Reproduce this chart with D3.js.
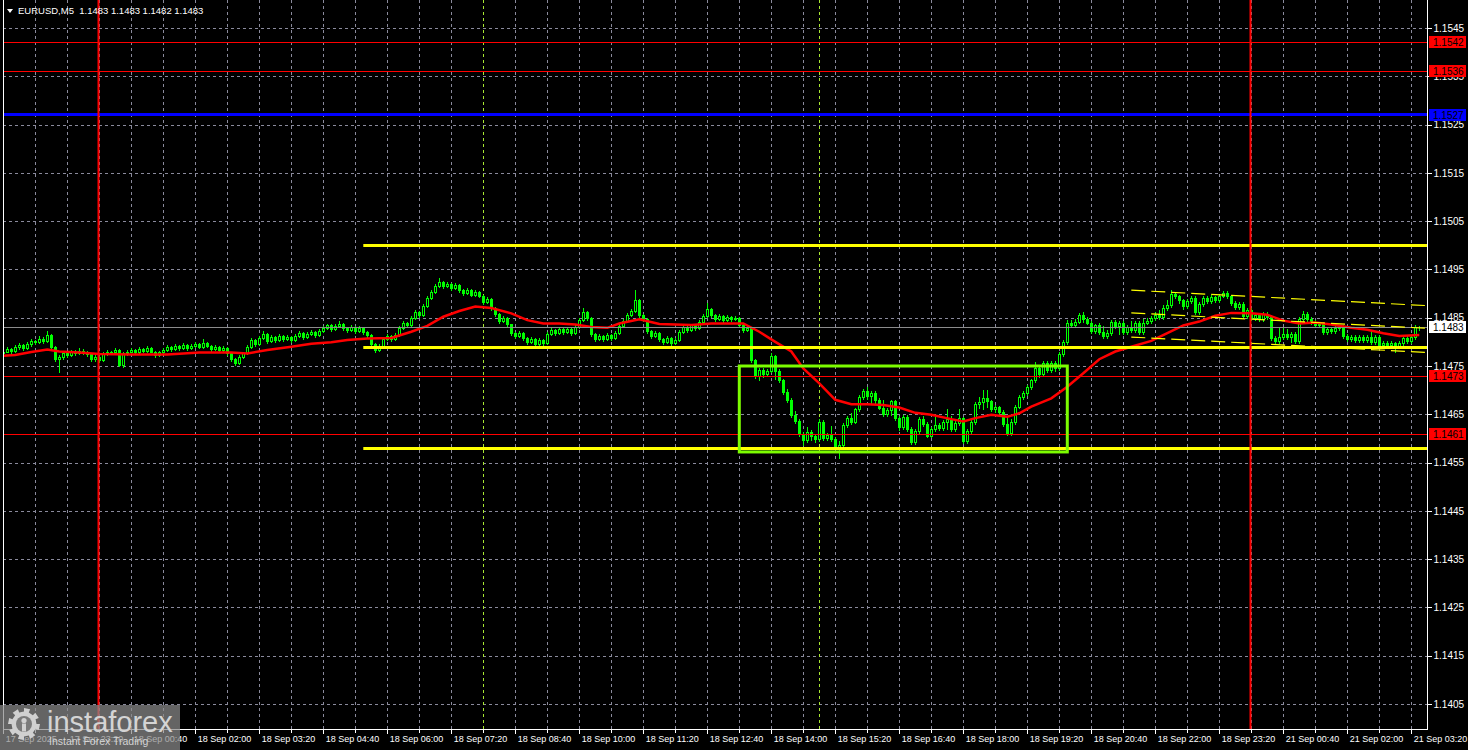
<!DOCTYPE html>
<html><head><meta charset="utf-8">
<script src="https://cdn.jsdelivr.net/npm/d3@7/dist/d3.min.js"></script>
<style>html,body{margin:0;padding:0;background:#000;overflow:hidden}svg{display:block}</style>
</head><body>
<svg id="c" width="1468" height="750"></svg>
<script>
// ---------- DATA (prices stored as pips above BASE) ----------
const BASE = 1.1400;
const symbolTitle = "EURUSD,M5  1.1483 1.1483 1.1482 1.1483";
const timeLabels = ["17 Sep 2025","17 Sep 23:20","18 Sep 00:40","18 Sep 02:00","18 Sep 03:20","18 Sep 04:40","18 Sep 06:00","18 Sep 07:20","18 Sep 08:40","18 Sep 10:00","18 Sep 11:20","18 Sep 12:40","18 Sep 14:00","18 Sep 15:20","18 Sep 16:40","18 Sep 18:00","18 Sep 19:20","18 Sep 20:40","18 Sep 22:00","18 Sep 23:20","21 Sep 00:40","21 Sep 02:00","21 Sep 03:20"];
const labelBars = [0,16,32,48,64,80,96,112,128,144,160,176,192,208,224,240,256,272,288,304,320,336,352];
const priceTicks = [1.1405,1.1415,1.1425,1.1435,1.1445,1.1455,1.1465,1.1475,1.1485,1.1495,1.1505,1.1515,1.1525,1.1535,1.1545];

const open = [
77.6,78.0,78.6,78.2,79.0,79.4,78.8,79.6,80.2,80.0,
80.6,80.2,81.4,79.0,76.4,76.8,77.6,77.2,78.0,77.6,
78.2,77.8,77.4,76.4,76.8,76.2,77.4,78.0,77.8,78.4,
75.2,77.6,78.0,78.4,77.8,78.6,78.2,78.8,78.0,77.2,
77.8,78.4,79.0,78.6,79.2,78.8,79.4,78.8,79.2,79.6,
79.0,79.8,79.2,78.6,79.0,78.4,78.8,77.6,76.4,75.6,
76.8,77.6,79.0,80.4,79.6,80.8,81.6,80.2,81.0,80.4,
81.2,80.6,81.0,80.4,81.2,81.8,81.0,81.6,82.0,81.4,
82.2,82.8,83.4,82.6,83.2,83.8,82.8,82.4,83.0,82.2,
82.8,82.0,81.4,79.6,78.4,79.2,80.6,81.2,80.6,81.4,
82.8,84.0,83.4,85.0,86.2,85.6,87.4,89.0,90.4,91.6,
92.4,91.6,92.0,91.2,91.8,90.8,90.2,90.8,89.8,90.4,
89.6,88.2,88.8,87.0,85.8,84.4,85.0,83.6,81.8,81.2,
81.8,80.8,80.0,80.6,79.6,80.4,79.8,81.6,82.4,81.8,
82.6,82.0,82.6,81.8,83.0,84.6,86.2,85.0,81.6,80.6,
81.2,80.6,81.4,80.8,81.8,83.2,84.4,85.6,86.4,88.6,
85.6,84.8,82.2,81.2,81.8,80.6,80.0,80.8,79.8,80.4,
82.0,83.0,82.4,83.4,82.8,84.2,85.4,86.8,85.6,84.8,
85.4,84.6,85.2,84.8,85.0,83.4,82.4,82.8,76.2,73.0,
74.2,73.4,74.0,77.0,74.0,72.0,69.6,68.0,64.8,63.6,
61.0,59.6,61.4,60.4,59.8,63.4,60.0,60.8,59.8,58.2,
58.6,62.8,64.2,63.4,66.0,68.6,69.8,68.8,69.4,68.0,
66.4,65.0,65.8,67.8,64.2,62.4,64.4,62.0,59.2,61.6,
64.0,63.0,60.6,62.0,62.8,62.2,63.4,64.0,62.0,63.2,
64.2,59.4,61.6,63.4,67.2,67.6,68.4,67.8,66.0,66.6,
65.4,63.0,61.2,63.4,66.6,68.6,69.4,70.6,72.0,74.6,
73.4,75.6,74.2,75.6,74.6,77.4,80.0,84.0,83.4,84.2,
85.6,84.8,84.0,82.2,83.4,82.0,81.2,81.8,84.2,83.2,
84.0,82.0,83.0,82.4,84.0,82.0,84.0,84.4,85.0,85.6,
85.2,87.0,87.6,90.0,89.4,88.6,87.4,88.4,89.0,86.2,
87.8,89.0,88.4,89.2,88.6,89.6,90.2,89.4,88.0,87.2,
87.8,85.4,86.6,85.0,85.6,84.8,85.8,85.2,80.8,80.2,
81.0,81.6,81.0,81.6,80.2,84.8,85.8,84.8,84.2,83.4,
83.8,82.0,82.6,82.2,82.8,83.0,81.2,80.6,81.0,80.4,
81.0,80.4,81.0,80.0,81.0,79.4,79.8,79.4,79.8,79.2,
79.8,80.8,80.2,81.0,83.0];

const high = [
78.4,79.0,78.8,79.4,79.8,79.6,80.0,80.6,80.4,81.2,
81.0,82.2,81.6,79.2,77.2,78.0,78.0,78.4,78.4,78.8,
78.6,78.2,77.6,77.2,77.0,77.8,78.4,78.2,78.8,78.6,
77.8,78.4,78.8,78.6,79.0,78.8,79.2,79.0,78.2,78.2,
78.8,79.4,79.2,79.6,79.4,79.8,79.6,79.6,80.0,79.8,
80.6,80.0,79.4,79.4,79.2,79.2,79.0,77.8,76.6,77.2,
78.0,79.4,80.8,80.6,81.2,82.2,81.8,81.4,81.2,81.6,
81.4,81.4,81.2,81.6,82.2,82.0,82.0,82.4,82.2,82.6,
83.2,83.8,83.6,83.6,84.4,84.0,83.0,83.4,83.2,83.2,
83.0,82.2,81.6,79.8,79.6,81.0,81.6,81.4,81.8,83.2,
84.4,84.2,85.4,86.6,86.4,87.8,89.4,90.8,92.0,93.2,
92.6,92.4,92.2,92.2,92.0,91.0,91.2,91.0,90.8,90.6,
89.8,89.2,89.0,87.2,86.0,85.4,85.2,83.8,82.0,82.2,
82.0,81.0,81.0,80.8,80.8,80.6,82.0,82.8,82.6,83.0,
82.8,83.0,82.8,83.4,85.0,87.0,86.4,85.2,81.8,81.6,
81.4,81.8,81.6,82.2,83.6,84.8,86.0,86.8,90.8,88.8,
85.8,85.0,82.4,82.2,82.0,80.8,81.2,81.0,80.8,82.4,
83.4,83.2,83.8,83.6,84.6,85.8,88.0,87.0,85.8,85.8,
85.6,85.6,85.4,85.4,85.2,83.6,83.2,83.0,76.4,74.6,
74.6,74.4,77.6,77.2,74.4,72.4,70.2,68.4,65.6,64.0,
61.4,62.4,61.8,61.0,64.0,63.8,61.2,62.6,60.2,59.4,
63.2,64.6,65.2,66.4,69.0,70.2,70.6,69.8,69.8,68.4,
68.0,66.4,68.0,68.0,64.6,64.8,64.8,62.4,62.0,64.4,
64.6,63.4,62.4,64.6,63.2,63.8,66.0,64.6,64.0,66.0,
64.4,62.0,63.8,67.6,68.6,70.0,70.0,68.0,67.0,66.8,
65.8,64.6,64.0,67.0,69.0,69.8,71.0,72.4,75.8,75.0,
76.0,76.0,76.0,76.0,77.8,80.4,84.6,84.6,84.8,86.0,
86.2,85.2,84.4,83.8,84.0,83.2,82.4,84.6,84.6,84.4,
84.4,83.4,84.4,84.4,84.4,84.8,85.0,85.4,86.2,86.6,
87.6,88.6,90.8,90.4,89.8,88.8,88.8,89.4,89.4,88.2,
89.4,89.6,89.8,89.6,90.0,90.6,90.6,89.8,88.4,88.2,
88.2,87.0,87.0,86.0,86.0,86.2,86.2,85.6,81.2,82.8,
82.8,82.6,82.0,82.0,85.2,86.4,86.2,85.2,84.6,84.2,
84.2,83.0,83.0,83.2,83.4,83.4,81.6,81.4,81.4,81.4,
81.4,81.4,82.2,81.4,81.4,80.2,80.2,80.2,80.0,80.2,
81.2,81.2,81.4,83.4,83.2];

const low = [
77.2,77.8,77.6,78.0,78.6,78.4,78.6,79.2,79.6,79.8,
79.8,80.0,78.8,76.0,73.8,76.4,76.8,77.0,77.2,77.4,
77.4,77.0,76.0,76.0,75.8,76.0,77.2,77.4,77.6,75.0,
74.8,77.2,77.8,77.4,77.6,77.8,78.0,77.8,76.8,77.0,
77.6,78.2,78.2,78.4,78.4,78.6,78.4,78.6,79.0,78.8,
78.8,79.0,78.2,78.4,78.0,78.2,77.2,76.0,75.2,75.4,
76.6,77.4,78.8,79.2,79.4,80.6,79.8,80.0,80.0,80.2,
80.2,80.4,80.0,80.2,81.0,80.6,80.8,81.4,81.0,81.2,
82.0,82.6,82.2,82.4,83.0,82.4,82.0,82.2,81.8,82.0,
81.6,81.0,79.2,78.0,78.2,79.0,80.4,80.2,80.4,81.2,
82.6,83.0,83.2,84.8,85.2,85.4,87.2,88.8,90.2,91.4,
91.2,91.4,90.8,91.0,90.4,89.8,90.0,89.4,89.6,89.2,
87.8,88.0,86.6,85.4,84.0,84.2,83.2,81.4,80.8,81.0,
80.4,79.6,79.8,79.0,79.4,79.4,79.6,81.4,81.4,81.6,
81.6,81.8,81.4,81.6,82.8,84.4,84.6,81.2,80.2,80.4,
80.2,80.4,80.4,80.6,81.6,83.0,84.2,85.4,86.2,85.2,
84.4,81.8,80.8,81.0,80.2,79.6,79.8,79.4,79.6,80.2,
81.8,82.0,82.2,82.4,82.6,84.0,85.2,85.2,84.4,84.6,
84.2,84.4,84.4,84.6,83.0,82.0,82.2,75.8,72.6,72.2,
72.8,73.0,73.8,72.4,71.6,69.2,67.6,64.4,63.2,60.6,
58.6,59.2,59.6,59.2,59.4,59.6,59.6,59.4,57.8,56.0,
58.2,62.4,63.0,63.2,65.6,68.2,68.2,67.4,67.4,66.0,
64.6,64.6,64.8,63.8,61.8,62.0,61.6,58.8,58.8,61.2,
62.6,60.2,60.2,61.6,61.8,61.8,62.0,61.6,61.6,62.8,
59.0,59.0,61.2,63.0,66.4,66.0,66.6,65.6,65.4,65.0,
62.6,60.8,60.8,63.0,66.2,68.2,69.0,70.2,71.6,72.8,
73.0,73.8,73.8,74.0,74.2,77.0,79.6,83.0,83.0,84.0,
84.2,83.6,81.8,81.8,81.6,80.8,80.8,81.4,82.8,81.6,
81.6,81.6,82.0,82.0,81.6,81.6,83.6,84.0,84.6,84.8,
84.8,86.6,87.2,89.0,88.0,86.8,87.0,88.0,85.8,85.8,
87.4,88.0,88.0,88.2,88.2,89.2,89.0,87.6,86.8,86.8,
85.0,85.0,84.6,84.6,84.4,84.4,84.8,80.4,79.8,79.8,
80.6,80.6,80.0,79.8,79.8,84.4,84.4,83.8,83.0,83.0,
81.6,81.6,81.8,81.8,82.4,80.8,80.2,80.2,80.0,80.0,
80.0,80.0,79.6,79.6,79.0,79.0,79.0,79.0,78.0,78.8,
79.4,79.8,79.8,80.6,82.4];

const close = [
78.0,78.6,78.2,79.0,79.4,78.8,79.6,80.2,80.0,80.6,
80.2,81.4,79.0,76.4,76.8,77.6,77.2,78.0,77.6,78.2,
77.8,77.4,76.4,76.8,76.2,77.4,78.0,77.8,78.4,75.2,
77.6,78.0,78.4,77.8,78.6,78.2,78.8,78.0,77.2,77.8,
78.4,79.0,78.6,79.2,78.8,79.4,78.8,79.2,79.6,79.0,
79.8,79.2,78.6,79.0,78.4,78.8,77.6,76.4,75.6,76.8,
77.6,79.0,80.4,79.6,80.8,81.6,80.2,81.0,80.4,81.2,
80.6,81.0,80.4,81.2,81.8,81.0,81.6,82.0,81.4,82.2,
82.8,83.4,82.6,83.2,83.8,82.8,82.4,83.0,82.2,82.8,
82.0,81.4,79.6,78.4,79.2,80.6,81.2,80.6,81.4,82.8,
84.0,83.4,85.0,86.2,85.6,87.4,89.0,90.4,91.6,92.4,
91.6,92.0,91.2,91.8,90.8,90.2,90.8,89.8,90.4,89.6,
88.2,88.8,87.0,85.8,84.4,85.0,83.6,81.8,81.2,81.8,
80.8,80.0,80.6,79.6,80.4,79.8,81.6,82.4,81.8,82.6,
82.0,82.6,81.8,83.0,84.6,86.2,85.0,81.6,80.6,81.2,
80.6,81.4,80.8,81.8,83.2,84.4,85.6,86.4,88.6,85.6,
84.8,82.2,81.2,81.8,80.6,80.0,80.8,79.8,80.4,82.0,
83.0,82.4,83.4,82.8,84.2,85.4,86.8,85.6,84.8,85.4,
84.6,85.2,84.8,85.0,83.4,82.4,82.8,76.2,73.0,74.2,
73.4,74.0,77.0,74.0,72.0,69.6,68.0,64.8,63.6,61.0,
59.6,61.4,60.4,59.8,63.4,60.0,60.8,59.8,58.2,58.6,
62.8,64.2,63.4,66.0,68.6,69.8,68.8,69.4,68.0,66.4,
65.0,65.8,67.8,64.2,62.4,64.4,62.0,59.2,61.6,64.0,
63.0,60.6,62.0,62.8,62.2,63.4,64.0,62.0,63.2,64.2,
59.4,61.6,63.4,67.2,67.6,68.4,67.8,66.0,66.6,65.4,
63.0,61.2,63.4,66.6,68.6,69.4,70.6,72.0,74.6,73.4,
75.6,74.2,75.6,74.6,77.4,80.0,84.0,83.4,84.2,85.6,
84.8,84.0,82.2,83.4,82.0,81.2,81.8,84.2,83.2,84.0,
82.0,83.0,82.4,84.0,82.0,84.0,84.4,85.0,85.6,85.2,
87.0,87.6,90.0,89.4,88.6,87.4,88.4,89.0,86.2,87.8,
89.0,88.4,89.2,88.6,89.6,90.2,89.4,88.0,87.2,87.8,
85.4,86.6,85.0,85.6,84.8,85.8,85.2,80.8,80.2,81.0,
81.6,81.0,81.6,80.2,84.8,85.8,84.8,84.2,83.4,83.8,
82.0,82.6,82.2,82.8,83.0,81.2,80.6,81.0,80.4,81.0,
80.4,81.0,80.0,81.0,79.4,79.8,79.4,79.8,79.2,79.8,
80.8,80.2,81.0,83.0,83.0];

// moving average (bar index, pips)
const maBar = [0,3,7,11,14,19,24,32,41,49,57,61,66,72,77,82,86,91,97,102,106,110,114,118,122,127,131,135,139,143,147,151,154,159,164,172,177,180,185,189,193,197,200,204,208,212,216,220,224,228,232,237,240,243,247,251,254,257,262,266,270,274,278,282,287,291,295,299,303,307,312,316,320,324,328,332,337,341,345,349,354];
const maVal = [77.1,77.3,77.9,78.4,78.0,77.8,77.5,77.4,77.4,77.8,77.8,77.6,78.3,79.0,79.6,79.9,80.4,80.7,80.8,82.1,83.3,85.2,86.4,87.3,87.0,85.9,84.5,83.8,83.8,83.6,83.1,82.9,83.8,84.7,83.7,83.5,83.8,83.8,83.8,82.1,80.0,78.0,74.5,71.4,68.0,67.1,67.1,66.9,66.4,65.3,64.9,64.0,63.5,64.2,64.9,64.5,65.2,66.6,68.3,70.7,73.5,76.4,78.0,79.0,80.2,81.8,83.4,84.2,85.4,86.0,85.9,85.6,84.4,83.8,84.0,83.6,82.9,82.5,81.8,81.2,81.4];

// chart objects
const redLevels = [1.1542, 1.1536, 1.1473, 1.1461];
const blueLevel = 1.1527;
const currentPrice = 1.1483;
const yellowLevels = [1.1500, 1.1479, 1.1458];
const yellowStartBar = 90;
const dayStartBars = [24, 312];
const sessionBars = [120, 204];
const boxBars = [184, 266];
const boxPrices = [1.1475, 1.14572];
const channelBars = [282, 356];
const channelUpper = [90.7, 87.5];
const channelMiddle = [86.0, 82.8];
const channelLower = [81.0, 77.8];

// ---------- DRAW ----------
const svg = d3.select('#c');
const FONT = "'Liberation Sans', Arial, sans-serif";
const L = 3, R = 1427, B = 729;
const x = d3.scaleLinear().domain([0, 354]).range([3.3, 1419.3]);
const y = d3.scaleLinear().domain([1.1405, 1.1545]).range([704, 28]);
const P = v => BASE + v / 10000;
const px = v => Math.round(v) + 0.5;

svg.append('rect').attr('width', 1468).attr('height', 750).attr('fill', '#000');

svg.append('defs').append('clipPath').attr('id', 'plot')
  .append('rect').attr('x', L).attr('y', 0).attr('width', R - L).attr('height', B);

const plot = svg.append('g').attr('clip-path', 'url(#plot)');

// grid
const grid = plot.append('g').attr('shape-rendering', 'crispEdges')
  .attr('stroke', '#8a8a9c').attr('stroke-dasharray', '3,3').attr('stroke-width', 1);
grid.selectAll('line.h').data(priceTicks).join('line')
  .attr('x1', L).attr('x2', R).attr('y1', d => px(y(d))).attr('y2', d => px(y(d)));
grid.selectAll('line.v').data(d3.range(8, 355, 8)).join('line')
  .attr('y1', 0).attr('y2', B).attr('x1', d => px(x(d))).attr('x2', d => px(x(d)));

// session separators
plot.selectAll('line.sess').data(sessionBars).join('line')
  .attr('x1', d => px(x(d))).attr('x2', d => px(x(d))).attr('y1', 0).attr('y2', B)
  .attr('stroke', '#a8e632').attr('stroke-dasharray', '3,3').attr('shape-rendering', 'crispEdges');

// candles
const bars = d3.range(close.length);
const cg = plot.append('g').attr('shape-rendering', 'crispEdges');
cg.selectAll('line.w').data(bars).join('line')
  .attr('x1', i => Math.round(x(i)) + 0.5).attr('x2', i => Math.round(x(i)) + 0.5)
  .attr('y1', i => Math.round(y(P(high[i])))).attr('y2', i => Math.round(y(P(low[i]))) + 1)
  .attr('stroke', '#00ff00');
cg.selectAll('rect.b').data(bars).join('rect')
  .each(function (i) {
    const cx = Math.round(x(i));
    const top = Math.round(y(P(Math.max(open[i], close[i]))));
    const bot = Math.round(y(P(Math.min(open[i], close[i]))));
    const s = d3.select(this);
    if (close[i] > open[i]) {
      s.attr('x', cx - 0.5).attr('y', top + 0.5).attr('width', 2).attr('height', Math.max(1, bot - top))
        .attr('fill', '#000').attr('stroke', '#00ff00').attr('stroke-width', 1);
    } else {
      s.attr('x', cx - 1).attr('y', top).attr('width', 3).attr('height', Math.max(1, bot - top + 1))
        .attr('fill', '#00ff00');
    }
  });

// moving average
plot.append('path').datum(d3.range(maBar.length))
  .attr('d', d3.line().x(i => x(maBar[i])).y(i => y(P(maVal[i]))))
  .attr('fill', 'none').attr('stroke', '#ff0000').attr('stroke-width', 2.5);

// horizontal levels
plot.selectAll('line.red').data(redLevels).join('line')
  .attr('x1', L).attr('x2', R).attr('y1', d => px(y(d))).attr('y2', d => px(y(d)))
  .attr('stroke', '#ff0000').attr('shape-rendering', 'crispEdges');
plot.append('line').attr('x1', L).attr('x2', R)
  .attr('y1', px(y(currentPrice))).attr('y2', px(y(currentPrice)))
  .attr('stroke', '#8c8c8c').attr('shape-rendering', 'crispEdges');
plot.append('line').attr('x1', L).attr('x2', R)
  .attr('y1', Math.round(y(blueLevel)) - 0.5).attr('y2', Math.round(y(blueLevel)) - 0.5)
  .attr('stroke', '#0000ff').attr('stroke-width', 3);
plot.selectAll('line.yel').data(yellowLevels).join('line')
  .attr('x1', x(yellowStartBar)).attr('x2', R)
  .attr('y1', d => Math.round(y(d)) + 0.5).attr('y2', d => Math.round(y(d)) + 0.5)
  .attr('stroke', '#ffff00').attr('stroke-width', 3);

// rectangle
plot.append('rect')
  .attr('x', x(boxBars[0])).attr('y', y(boxPrices[0]))
  .attr('width', x(boxBars[1]) - x(boxBars[0])).attr('height', y(boxPrices[1]) - y(boxPrices[0]))
  .attr('fill', 'none').attr('stroke', '#7cfc00').attr('stroke-width', 3);

// channel
[channelUpper, channelMiddle, channelLower].forEach(c => {
  plot.append('line')
    .attr('x1', x(channelBars[0])).attr('x2', x(channelBars[1]))
    .attr('y1', y(P(c[0]))).attr('y2', y(P(c[1])))
    .attr('stroke', '#ffff00').attr('stroke-width', 1.2).attr('stroke-dasharray', '14,6');
});

// day separators (red verticals)
plot.selectAll('line.day').data(dayStartBars).join('line')
  .attr('x1', d => Math.round(x(d)) - 0.5).attr('x2', d => Math.round(x(d)) - 0.5)
  .attr('y1', 0).attr('y2', B).attr('stroke', '#ff0000').attr('stroke-width', 2);

// frame
svg.append('path').attr('d', `M${L + 0.5},0V${B + 0.5}H${R + 0.5}V0`)
  .attr('fill', 'none').attr('stroke', '#fff').attr('shape-rendering', 'crispEdges');

// time axis
const xa = svg.append('g').attr('transform', `translate(0,${B + 0.5})`)
  .call(d3.axisBottom(x).tickValues(labelBars).tickFormat((d, i) => timeLabels[i]).tickSize(4).tickSizeOuter(0));
const xm = svg.append('g').attr('transform', `translate(0,${B + 0.5})`)
  .call(d3.axisBottom(x).tickValues(d3.range(8, 355, 16)).tickFormat('').tickSize(3).tickSizeOuter(0));
[xa, xm].forEach(g => {
  g.select('.domain').remove();
  g.selectAll('line').attr('stroke', '#fff').attr('shape-rendering', 'crispEdges');
  g.selectAll('text').attr('fill', '#fff').attr('font-family', FONT).attr('font-size', '9px')
    .attr('text-anchor', 'start').attr('x', 2).attr('y', 6);
});

// price axis
const ya = svg.append('g').attr('transform', `translate(${R + 0.5},0)`)
  .call(d3.axisRight(y).tickValues(priceTicks).tickFormat(d3.format('.4f')).tickSize(4).tickSizeOuter(0));
ya.select('.domain').remove();
ya.selectAll('line').attr('stroke', '#fff').attr('shape-rendering', 'crispEdges');
ya.selectAll('text').attr('fill', '#fff').attr('font-family', FONT).attr('font-size', '10px').attr('x', 6);

// level labels
const tags = redLevels.map(v => ({ v, bg: '#ff0000' }))
  .concat([{ v: blueLevel, bg: '#0000ff' }, { v: currentPrice, bg: '#ffffff' }]);
const tg = svg.append('g');
tags.forEach(t => {
  const cy = Math.round(y(t.v));
  tg.append('rect').attr('x', 1429).attr('y', cy - 6).attr('width', 37).attr('height', 12).attr('fill', t.bg);
  tg.append('text').attr('x', 1433).attr('y', cy + 3.5).text(d3.format('.4f')(t.v))
    .attr('fill', '#000').attr('font-family', FONT).attr('font-size', '10px');
});

// title
svg.append('path').attr('d', 'M7,9L13,9L10,13Z').attr('fill', '#fff');
svg.append('text').attr('x', 18).attr('y', 14).text(symbolTitle)
  .style('white-space', 'pre')
  .attr('fill', '#fff').attr('font-family', FONT).attr('font-size', '9.5px');

// watermark logo
const logo = svg.append('g');
logo.append('rect').attr('x', 0).attr('y', 705).attr('width', 180).attr('height', 45)
  .attr('fill', '#8a8a8a').attr('opacity', 0.72);
const gc = [24, 724], teeth = 8;
let gp = '';
for (let k = 0; k < teeth * 2; k++) {
  const a0 = (k / (teeth * 2)) * 2 * Math.PI, a1 = ((k + 1) / (teeth * 2)) * 2 * Math.PI;
  const r = k % 2 === 0 ? 16 : 12.5;
  gp += (k === 0 ? 'M' : 'L') + (gc[0] + r * Math.cos(a0)).toFixed(2) + ',' + (gc[1] + r * Math.sin(a0)).toFixed(2);
  gp += 'L' + (gc[0] + r * Math.cos(a1)).toFixed(2) + ',' + (gc[1] + r * Math.sin(a1)).toFixed(2);
}
logo.append('path').attr('d', gp + 'Z').attr('fill', '#d0d0d0');
logo.append('circle').attr('cx', gc[0]).attr('cy', gc[1]).attr('r', 8).attr('fill', '#7a7a7a');
logo.append('circle').attr('cx', gc[0]).attr('cy', gc[1] - 3.5).attr('r', 2.6).attr('fill', '#d0d0d0');
logo.append('rect').attr('x', gc[0] - 2).attr('y', gc[1] - 0.5).attr('width', 4).attr('height', 8).attr('fill', '#d0d0d0');
logo.append('text').attr('x', 47).attr('y', 732).text('instaforex')
  .attr('fill', '#d4d4d4').attr('font-family', FONT).attr('font-size', '29px');
logo.append('text').attr('x', 49).attr('y', 745).text('Instant Forex Trading')
  .attr('fill', '#d4d4d4').attr('font-family', FONT).attr('font-size', '10.5px');
</script>
</body></html>
